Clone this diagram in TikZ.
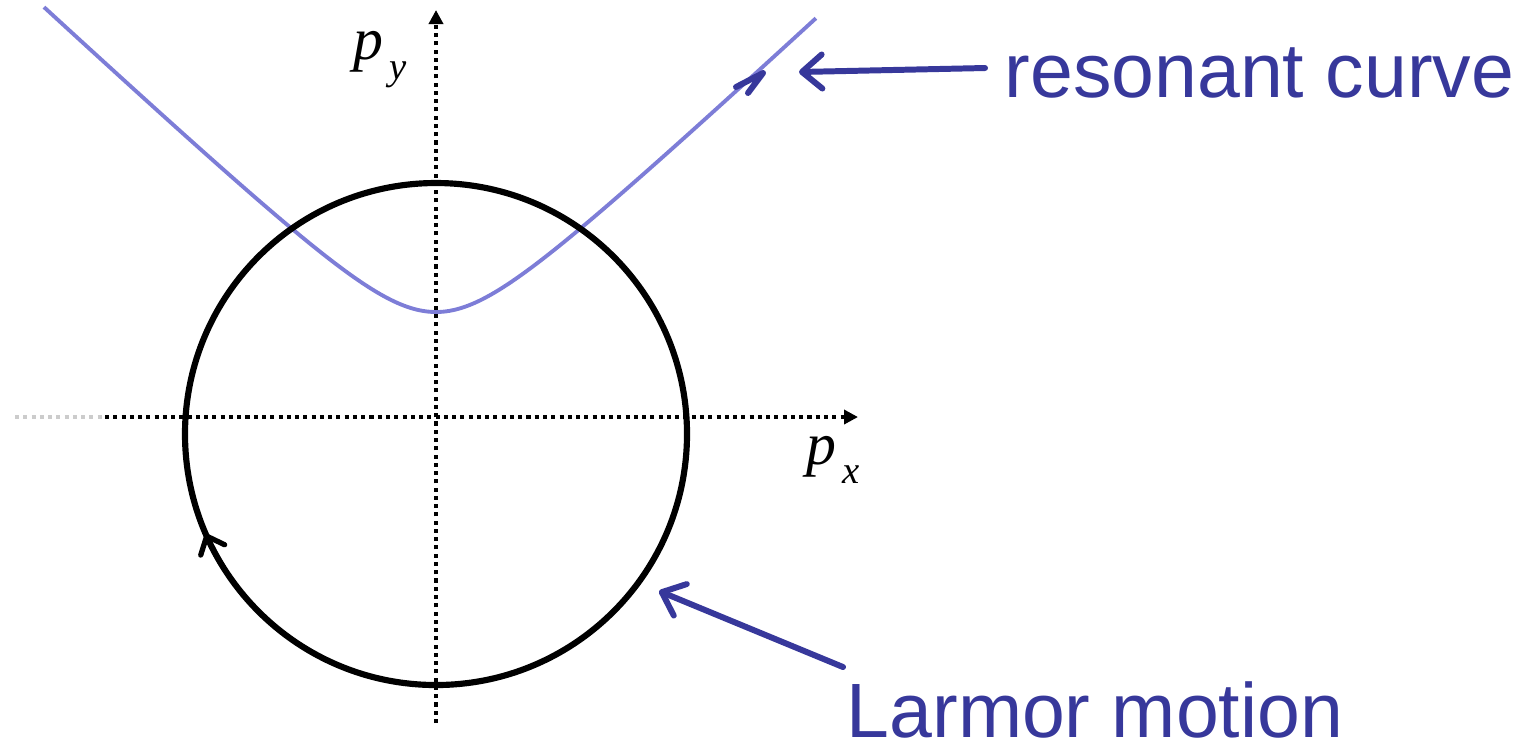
\documentclass[tikz,border=0pt]{standalone}
\usepackage{fontspec}
\setmainfont{Liberation Serif}
\newfontfamily\arialf{Liberation Sans}
\usetikzlibrary{arrows.meta}
\definecolor{annot}{RGB}{55,56,155}
\definecolor{rescol}{RGB}{125,125,215}
\tikzset{
  axisline/.style={line width=1.15pt, dash pattern=on 1.15pt off 1.2pt, black},
  axistip/.style={-{Triangle[length=0.14cm,width=0.14cm]}},
  annarrow/.style={annot, line width=1.7pt, line cap=round, -{Straight Barb[length=0.2cm,width=0.34cm,round]}},
  barb/.style={annot, line width=1.7pt, line cap=round, line join=round},
  annlabel/.style={annot, font=\arialf\fontsize{21.9pt}{24pt}\selectfont, inner sep=0pt, anchor=base west},
  plabel/.style={inner sep=0pt, anchor=base west, font=\fontsize{17pt}{18pt}\selectfont},
}
\begin{document}
\begin{tikzpicture}[x=0.01cm,y=-0.01cm]
\useasboundingbox (0,0) rectangle (1522,747);
% resonant curve
\draw[rescol, line width=1.1pt] plot[domain=-3.92:3.8, samples=120, smooth]
  ({436+100*\x}, {312 - 100*(sqrt(0.4462 + 0.87*\x*\x) - 0.668)});
% axes
\coordinate (xs0) at (15,417);
\coordinate (xs) at (105,417);
\coordinate (xe) at (858,417);
\coordinate (ys) at (436,723);
\coordinate (ye) at (436,10);
\draw[axisline, black!20] (xs0) -- (xs);
\draw[axisline, axistip] (xs) -- (xe);
\draw[axisline, axistip] (ys) -- (ye);
% circle
\coordinate (c) at (436,434);
\draw[line width=1.75pt] (c) circle [radius=251];
\draw[line width=1.5pt, line cap=round, -{Straight Barb[length=0.15cm,width=0.26cm,round]}]
  ([shift={(148:251)}]c) arc [start angle=148, end angle=156.6, radius=251];
% labels
\node[plabel] (py) at (353,59) {\textit{p}\hspace{0.06cm}\raisebox{-0.2cm}{\fontsize{11pt}{12pt}\selectfont\textit{y}}};
\node[plabel] (px) at (806,464) {\textit{p}\hspace{0.06cm}\raisebox{-0.19cm}{\fontsize{11pt}{12pt}\selectfont\textit{x}}};
\node[annlabel] (rc) at (1004,97) {resonant curve};
\node[annlabel] (lm) at (846,737) {Larmor motion};
% annotation arrows
\coordinate (rcS) at (985,68);
\coordinate (rcT) at (799,72);
\draw[annarrow] (rcS) -- (rcT);
\coordinate (lmS) at (843,667);
\coordinate (lmT) at (659,591);
\draw[annarrow] (lmS) -- (lmT);
% arrowhead on the resonant curve
\coordinate (caT) at (763,73);
\coordinate (caB1) at (748,93);
\coordinate (caB2) at (736,87);
\draw[barb] (caB1) -- (caT) -- (caB2);
\end{tikzpicture}
\end{document}
